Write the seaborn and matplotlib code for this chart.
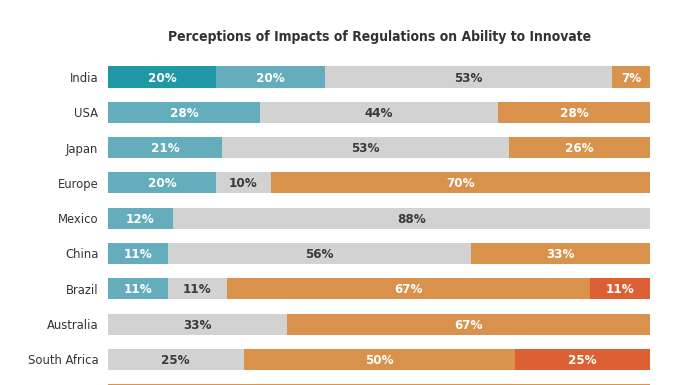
import matplotlib
matplotlib.use("Agg")
import numpy as np
import pandas as pd
import seaborn as sns
import matplotlib.pyplot as plt
from matplotlib import font_manager

countries = ["India", "USA", "Japan", "Europe", "Mexico", "China", "Brazil",
             "Australia", "South Africa", "Other"]
greatly_enables = [20, 0, 0, 0, 0, 0, 0, 0, 0, 0]
somewhat_enables = [20, 28, 21, 20, 12, 11, 11, 0, 0, 0]
no_impact = [53, 44, 53, 10, 88, 56, 11, 33, 25, 0]
somewhat_hinders = [7, 28, 26, 70, 0, 33, 67, 67, 50, 100]
greatly_hinders = [0, 0, 0, 0, 0, 0, 11, 0, 25, 0]

segments = ["Greatly enables", "Somewhat enables", "No impact",
            "Somewhat hinders", "Greatly hinders"]
colors = ["#1e98a5", "#64adbc", "#d2d2d2", "#d8924c", "#dc6034"]
text_colors = ["white", "white", "#3a3a3a", "white", "white"]

df = pd.DataFrame({
    "country": countries,
    segments[0]: greatly_enables,
    segments[1]: somewhat_enables,
    segments[2]: no_impact,
    segments[3]: somewhat_hinders,
    segments[4]: greatly_hinders,
})
cum = df[segments].cumsum(axis=1)

# look for a narrow face, the reference uses a condensed sans
narrow = [f.name for f in font_manager.fontManager.ttflist
          if f.stretch in ("condensed", "semi-condensed", "extra-condensed")
          or "Narrow" in f.name or "Condensed" in f.name]
family = narrow[0] if narrow else "Roboto"

sns.set_style("white")
plt.rcParams["font.family"] = [family, "DejaVu Sans"]
plt.rcParams["font.stretch"] = "condensed"

fig = plt.figure(figsize=(6.96, 3.85), dpi=100)
ax = fig.add_axes([108 / 696, 0, (650 - 108) / 696, 1])

# stacked bars: draw the cumulative totals from the widest down
for i in range(len(segments) - 1, -1, -1):
    sns.barplot(x=cum[segments[i]], y=df["country"], orient="h",
                color=colors[i], width=0.6, ax=ax, saturation=1,
                linewidth=0)

spacing = 35.3
ymax = (385 - 77) / spacing

# segment labels
for r in range(len(countries)):
    if r > ymax:
        continue
    left = 0
    for i, seg in enumerate(segments):
        v = df[seg][r]
        if v > 0:
            ax.text(left + v / 2, r + 0.03, f"{v}%", ha="center", va="center",
                    color=text_colors[i], fontsize=9.5, fontweight="bold")
        left += v

ax.set_xlim(0, 100)
ax.set_ylim(ymax, (0 - 77) / spacing)
ax.set_xlabel("")
ax.set_ylabel("")
ax.set_xticks([])
ax.tick_params(axis="y", length=0, pad=7, labelsize=9.3, labelcolor="#333333")
for s in ax.spines.values():
    s.set_visible(False)

fig.text(380 / 696, 1 - 37 / 385, "Perceptions of Impacts of Regulations on Ability to Innovate",
         ha="center", va="center", fontsize=10, fontweight="bold", color="#333333")

fig.savefig("out.png", dpi=100)
